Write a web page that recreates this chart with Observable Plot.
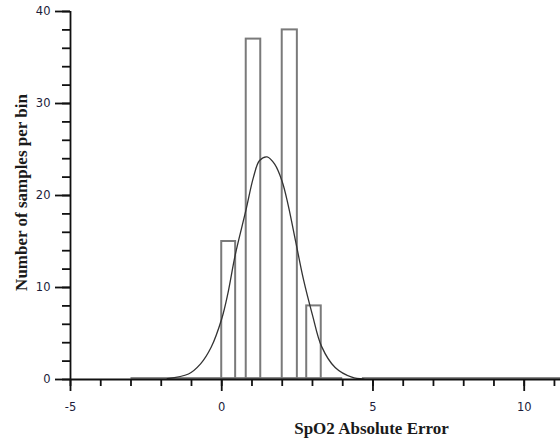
<!DOCTYPE html>
<html>
<head>
<meta charset="utf-8">
<script src="https://cdn.jsdelivr.net/npm/d3@7"></script>
<script src="https://cdn.jsdelivr.net/npm/@observablehq/plot@0.6"></script>
<style>
  html, body { margin: 0; padding: 0; background: #fff; }
</style>
</head>
<body>
<div id="chart"></div>
<script>
// Histogram bins (left edge, right edge, count)
const binStart = [0, 0.81, 2.0, 2.81];
const binEnd   = [0.46, 1.29, 2.5, 3.29];
const binCount = [15, 37, 38, 8];

// Zero-count bins drawn flat along the baseline
const emptyStart = [-3, 4.65];
const emptyEnd   = [4.0, 11.2];

// Fitted normal curve
const curveX = [-1.8, -1.1, -0.7, -0.35, 0, 0.2, 0.45, 0.8, 1.05, 1.25, 1.5, 1.75, 2.0, 2.2, 2.45, 2.7, 3.0, 3.3, 3.75, 4.3, 4.7];
const curveY = [0.1, 0.6, 1.7, 3.5, 6.6, 9.3, 13.6, 18.4, 22, 23.8, 24.2, 23.4, 21.5, 18.9, 14.9, 10.9, 7.0, 3.6, 1.3, 0.25, 0.05];

const xMajor = [-5, 0, 5, 10];
const xMinor = d3.range(-5, 12, 1);
const yMajor = [0, 10, 20, 30, 40];
const yMinor = d3.range(0, 41, 2);

const xLabel = "SpO2 Absolute Error";
const yLabel = "Number of samples per bin";

const bins = binStart.map((s, i) => ({x1: s, x2: binEnd[i], y: binCount[i]}));
const empties = emptyStart.map((s, i) => ({x1: s, x2: emptyEnd[i]}));
const curve = curveX.map((x, i) => ({x, y: curveY[i]}));

const tickFont = "'DejaVu Sans', sans-serif";
const tickColor = "#1c1c3a";

const chart = Plot.plot({
  width: 560,
  height: 441,
  marginLeft: 70,
  marginRight: 0,
  marginTop: 11,
  marginBottom: 62,
  style: {background: "#fff", overflow: "visible"},
  x: {domain: [-5, 11.2]},
  y: {domain: [0, 40]},
  marks: [
    // flat empty bins
    Plot.ruleY(empties, {x1: "x1", x2: "x2", y: 0, stroke: "#8a8a8a", strokeWidth: 3, dy: -1}),
    // histogram bars
    Plot.rect(bins, {x1: "x1", x2: "x2", y1: 0, y2: "y", fill: "none", stroke: "#7a7a7a", strokeWidth: 2}),
    // normal curve
    Plot.line(curve, {x: "x", y: "y", curve: "catmull-rom", stroke: "#333", strokeWidth: 1.3}),
    // axes lines
    Plot.ruleY([0], {stroke: "#111", strokeWidth: 1.8}),
    Plot.ruleX([-5], {y1: 0, y2: 40, stroke: "#111", strokeWidth: 1.8}),
    // x ticks
    Plot.axisX({ticks: xMinor, tickSize: 7, tickFormat: () => "", strokeWidth: 1.8, stroke: "#111", label: null}),
    Plot.axisX({ticks: xMajor, tickSize: 12, tickPadding: 11, strokeWidth: 1.8, stroke: "#111",
      fontSize: 11.5, fontFamily: tickFont, fill: tickColor, label: null, tickFormat: d => d < 0 ? "-" + Math.abs(d) : String(d)}),
    // y ticks
    Plot.axisY({ticks: yMinor, tickSize: 8, tickFormat: () => "", strokeWidth: 1.8, stroke: "#111", label: null}),
    Plot.axisY({ticks: yMajor, tickSize: 15, tickPadding: 5, strokeWidth: 1.8, stroke: "#111",
      fontSize: 11.5, fontFamily: tickFont, fill: tickColor, label: null}),
    // axis titles
    Plot.text([xLabel], {frameAnchor: "bottom", textAnchor: "middle", dx: 56, dy: 54, text: d => d,
      fontFamily: "'Liberation Serif', serif", fontWeight: "bold", fontSize: 17, fill: "#1a1a1a"}),
    Plot.text([yLabel], {frameAnchor: "left", textAnchor: "middle", lineAnchor: "middle", dx: -49, dy: -3, rotate: -90, text: d => d,
      fontFamily: "'Liberation Serif', serif", fontWeight: "bold", fontSize: 17, fill: "#1a1a1a"})
  ]
});
document.getElementById("chart").appendChild(chart);
</script>
</body>
</html>
